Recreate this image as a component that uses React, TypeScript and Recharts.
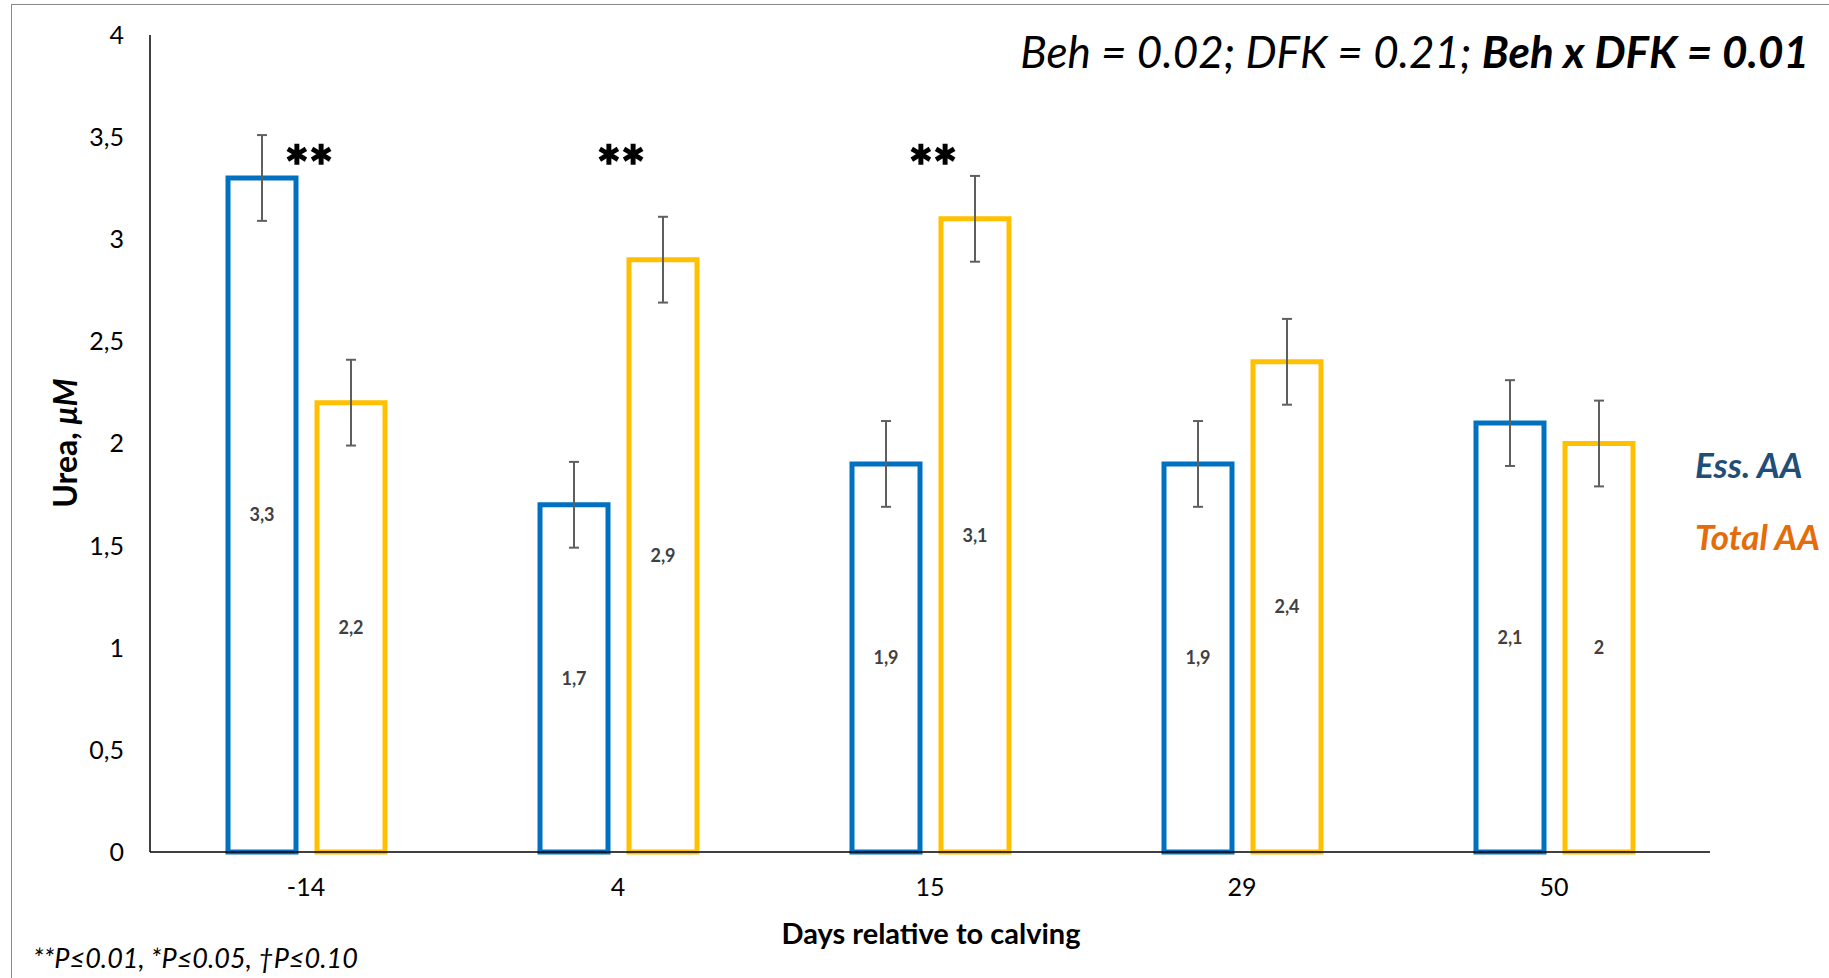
import React from 'react';
import { BarChart, Bar, XAxis, YAxis, ErrorBar, LabelList, ReferenceDot } from 'recharts';

const days = ['-14', '4', '15', '29', '50'];
const essAA = [3.3, 1.7, 1.9, 1.9, 2.1];
const totalAA = [2.2, 2.9, 3.1, 2.4, 2.0];
const essErr = [0.21, 0.21, 0.21, 0.21, 0.21];
const totalErr = [0.21, 0.21, 0.21, 0.21, 0.21];
const signif = ['**', '**', '**', '', ''];
const yTicks = [0, 0.5, 1, 1.5, 2, 2.5, 3, 3.5, 4];

const FONT = 'Lato, "Noto Sans", sans-serif';
const ESS_COLOR = '#0070C0';
const TOTAL_COLOR = '#FFC000';

const data = days.map((d, i) => ({
    day: d,
    ess: essAA[i],
    total: totalAA[i],
    essErr: essErr[i],
    totalErr: totalErr[i],
}));

const comma = (v: any) => String(v).replace('.', ',');

const legendItems = [
    { label: 'Ess. AA', color: '#1F4E79', y: 464 },
    { label: 'Total AA', color: '#E46C0A', y: 536 },
];

export default function App() {
    return (
        <div style={{ position: 'absolute', left: 0, top: 0, width: 1829, height: 978, background: '#fff', overflow: 'hidden', fontFamily: FONT }}>
            <style>{`body{margin:0;overflow:hidden;}`}</style>
            <div style={{ position: 'absolute', left: 11, top: 4, width: 1840, height: 1000, border: '1.5px solid #8a8a8a' }} />

            <BarChart
                width={1829}
                height={978}
                data={data}
                margin={{ top: 35, right: 119, bottom: 66, left: 0 }}
                barGap={21}
                barSize={68}
            >
                <XAxis
                    dataKey="day"
                    height={60}
                    axisLine={{ stroke: '#000', strokeWidth: 1.5 }}
                    tickLine={false}
                    tickSize={0}
                    tickMargin={26}
                    tick={{ fill: '#000', fontSize: 25, fontFamily: FONT }}
                />
                <YAxis
                    width={150}
                    domain={[0, 4]}
                    ticks={yTicks}
                    axisLine={{ stroke: '#000', strokeWidth: 1.5 }}
                    tickLine={false}
                    tickSize={0}
                    tickMargin={26}
                    tickFormatter={comma}
                    tick={{ fill: '#000', fontSize: 25, fontFamily: FONT }}
                />
                <Bar dataKey="ess" name="Ess. AA" fill="#fff" stroke={ESS_COLOR} strokeWidth={5} isAnimationActive={false}>
                    <ErrorBar dataKey="essErr" width={5} stroke="#5f5f5f" strokeWidth={2} />
                    <LabelList dataKey="ess" position="center" formatter={comma} fill="#404040" fontSize={18} fontWeight={700} fontFamily={FONT} />
                </Bar>
                <Bar dataKey="total" name="Total AA" fill="#fff" stroke={TOTAL_COLOR} strokeWidth={5} isAnimationActive={false}>
                    <ErrorBar dataKey="totalErr" width={5} stroke="#5f5f5f" strokeWidth={2} />
                    <LabelList dataKey="total" position="center" formatter={comma} fill="#404040" fontSize={18} fontWeight={700} fontFamily={FONT} />
                </Bar>
                {days.map((d, i) =>
                    signif[i] ? (
                        <ReferenceDot
                            key={d}
                            x={d}
                            y={3.41}
                            r={0}
                            ifOverflow="visible"
                            shape={(p: any) => (
                                <text x={p.cx + 3} y={p.cy + 32} textAnchor="middle" fontSize={57} fontWeight={700} fontFamily={FONT} fill="#000" stroke="#000" strokeWidth={1.6}>
                                    {signif[i]}
                                </text>
                            )}
                        />
                    ) : null
                )}
            </BarChart>

            <div style={{ position: 'absolute', right: 20, top: 23, fontSize: 44, fontStyle: 'italic', color: '#000', whiteSpace: 'nowrap', lineHeight: '56px' }}>
                Beh = 0.02; DFK = 0.21; <b>Beh x DFK = 0.01</b>
            </div>
            {legendItems.map((it) => (
                <div key={it.label} style={{ position: 'absolute', left: 1695, top: it.y, transform: 'translateY(-50%)', color: it.color, fontSize: 35, fontWeight: 700, fontStyle: 'italic', whiteSpace: 'nowrap' }}>
                    {it.label}
                </div>
            ))}
            <div style={{ position: 'absolute', left: 931, top: 932, transform: 'translate(-50%, -50%)', fontSize: 29, fontWeight: 700, whiteSpace: 'nowrap' }}>
                Days relative to calving
            </div>
            <div style={{ position: 'absolute', left: 64, top: 443, transform: 'translate(-50%, -50%) rotate(-90deg)', fontSize: 32, fontWeight: 700, whiteSpace: 'nowrap' }}>
                Urea, <i>μM</i>
            </div>
            <div style={{ position: 'absolute', left: 33, top: 957, transform: 'translateY(-50%)', fontSize: 27, fontStyle: 'italic', whiteSpace: 'nowrap' }}>
                **P≤0.01, *P≤0.05, †P≤0.10
            </div>
        </div>
    );
}
